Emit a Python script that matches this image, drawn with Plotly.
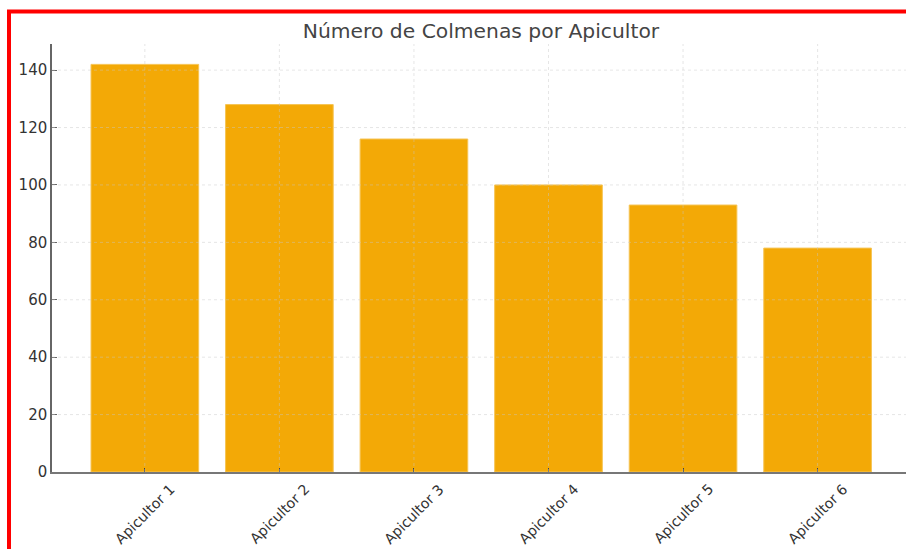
import plotly.graph_objects as go

categorias = ["Apicultor 1", "Apicultor 2", "Apicultor 3", "Apicultor 4", "Apicultor 5", "Apicultor 6"]
colmenas = [142, 128, 116, 100, 93, 78]
y_ticks = [0, 20, 40, 60, 80, 100, 120, 140]

W, H = 906, 549
ML, MT, MB, MR = 52, 44, 77, 0
FONT = "DejaVu Sans"

fig = go.Figure()
fig.add_trace(go.Bar(
    x=list(range(len(categorias))), y=colmenas, width=0.8,
    marker=dict(color="#f3a906", line=dict(color="#f6c454", width=1)),
    hoverinfo="x+y",
))

shapes = []
grid_style = dict(color="rgba(200,200,200,0.45)", width=1, dash="dot")
for i in range(len(categorias)):
    shapes.append(dict(type="line", xref="x", yref="paper", x0=i, x1=i, y0=0, y1=1,
                       line=grid_style, layer="above"))
for v in y_ticks[1:]:
    shapes.append(dict(type="line", xref="paper", yref="y", x0=0, x1=1, y0=v, y1=v,
                       line=grid_style, layer="above"))

# red frame of the screenshot
pw = W - ML - MR
ph = H - MT - MB
shapes.append(dict(type="rect", xref="paper", yref="paper",
                   x0=(9 - ML) / pw, x1=(W + 20 - ML) / pw,
                   y0=-(MB + 20) / ph, y1=(H - MB - 11.5) / ph,
                   line=dict(color="#ff0000", width=4), fillcolor="rgba(0,0,0,0)", layer="above"))

annotations = []
for i, c in enumerate(categorias):
    annotations.append(dict(x=i, y=0, xref="x", yref="paper", text=c, showarrow=False,
                            textangle=-45, xanchor="center", yanchor="top", yshift=-6,
                            font=dict(family=FONT, size=14.2, color="#333333")))

fig.update_layout(
    width=W, height=H,
    margin=dict(l=ML, r=MR, t=MT, b=MB, pad=0),
    paper_bgcolor="white", plot_bgcolor="white",
    showlegend=False,
    title=dict(text="Número de Colmenas por Apicultor", x=481 / W, xanchor="center",
               y=1 - 31 / H, yanchor="middle", yref="container",
               font=dict(family=FONT, size=20.3, color="#444444")),
    xaxis=dict(range=[-0.69, 5.657], tickmode="array", tickvals=list(range(len(categorias))),
               showticklabels=False, ticks="inside", ticklen=4, tickcolor="#444444",
               showgrid=False, zeroline=False, showline=True, linecolor="#777777", linewidth=1.5),
    yaxis=dict(range=[0, 149.1], tickmode="array", tickvals=y_ticks,
               ticks="inside", ticklen=5, tickcolor="#666666",
               tickfont=dict(family=FONT, size=15, color="#333333"),
               showgrid=False, zeroline=False, showline=True, linecolor="#666666", linewidth=1.5),
    shapes=shapes,
    annotations=annotations,
)

fig.write_html("out.html", config={"displayModeBar": False},
               post_script="document.body.style.margin='0';document.body.style.overflow='hidden';")
